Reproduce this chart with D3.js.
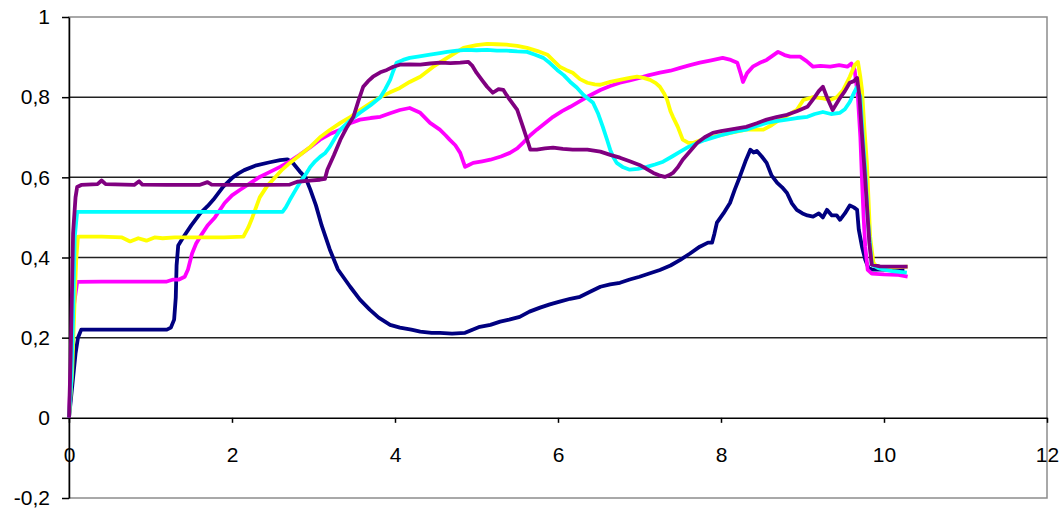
<!DOCTYPE html>
<html>
<head>
<meta charset="utf-8">
<script src="https://cdn.jsdelivr.net/npm/d3@7"></script>
<style>
  body { margin: 0; background: #fff; }
  svg text { font-family: "Liberation Sans", Arial, sans-serif; font-size: 21px; fill: #000; }
</style>
</head>
<body>
<svg id="chart" width="1062" height="510"></svg>
<script>
// values, [x, y]
const navy = [[0,0],[0.04,0.08],[0.08,0.16],[0.11,0.2],[0.15,0.22],[0.3,0.22],[0.6,0.22],[0.9,0.22],[1.2,0.22],[1.25,0.225],[1.29,0.245],[1.31,0.3],[1.32,0.38],[1.34,0.43],[1.4,0.45],[1.5,0.48],[1.61,0.51],[1.7,0.528],[1.77,0.544],[1.83,0.56],[1.89,0.576],[1.95,0.588],[2.01,0.6],[2.08,0.61],[2.15,0.618],[2.3,0.63],[2.45,0.637],[2.59,0.643],[2.68,0.645],[2.75,0.635],[2.83,0.615],[2.9,0.6],[2.96,0.57],[3.03,0.53],[3.1,0.48],[3.2,0.42],[3.3,0.37],[3.45,0.327],[3.57,0.295],[3.69,0.27],[3.8,0.25],[3.94,0.232],[4.06,0.225],[4.2,0.22],[4.31,0.215],[4.45,0.212],[4.55,0.212],[4.7,0.21],[4.86,0.212],[4.95,0.22],[5.04,0.227],[5.17,0.232],[5.29,0.24],[5.4,0.245],[5.53,0.252],[5.65,0.265],[5.78,0.275],[5.9,0.283],[6.02,0.29],[6.15,0.297],[6.27,0.302],[6.4,0.315],[6.52,0.327],[6.64,0.333],[6.76,0.337],[6.88,0.345],[7.0,0.352],[7.12,0.36],[7.25,0.369],[7.38,0.38],[7.5,0.394],[7.62,0.41],[7.74,0.427],[7.84,0.437],[7.89,0.437],[7.92,0.46],[7.95,0.487],[8.03,0.51],[8.11,0.536],[8.17,0.57],[8.23,0.601],[8.3,0.64],[8.36,0.669],[8.4,0.662],[8.44,0.666],[8.5,0.652],[8.56,0.636],[8.62,0.605],[8.69,0.586],[8.75,0.575],[8.81,0.561],[8.87,0.535],[8.93,0.519],[9.0,0.51],[9.06,0.505],[9.13,0.502],[9.2,0.51],[9.25,0.5],[9.3,0.519],[9.36,0.505],[9.42,0.505],[9.46,0.494],[9.52,0.51],[9.58,0.53],[9.63,0.525],[9.67,0.519],[9.69,0.47],[9.73,0.427],[9.77,0.394],[9.81,0.374],[9.85,0.37],[10.0,0.37],[10.25,0.37]]

const magenta = [[0,0],[0.03,0.15],[0.06,0.28],[0.1,0.339],[0.4,0.34],[0.8,0.34],[1.2,0.34],[1.28,0.345],[1.35,0.345],[1.42,0.352],[1.46,0.37],[1.51,0.41],[1.56,0.435],[1.61,0.452],[1.7,0.48],[1.79,0.5],[1.91,0.536],[2.0,0.555],[2.1,0.569],[2.22,0.585],[2.34,0.601],[2.46,0.613],[2.59,0.626],[2.71,0.64],[2.83,0.656],[2.96,0.675],[3.08,0.694],[3.2,0.708],[3.33,0.719],[3.45,0.735],[3.57,0.744],[3.7,0.748],[3.82,0.751],[3.94,0.76],[4.06,0.768],[4.18,0.773],[4.31,0.761],[4.43,0.736],[4.55,0.719],[4.62,0.705],[4.67,0.694],[4.74,0.68],[4.8,0.661],[4.86,0.626],[4.9,0.63],[4.96,0.636],[5.07,0.64],[5.17,0.644],[5.3,0.652],[5.41,0.661],[5.5,0.672],[5.57,0.686],[5.66,0.705],[5.74,0.719],[5.84,0.735],[5.94,0.751],[6.05,0.765],[6.15,0.776],[6.27,0.79],[6.36,0.801],[6.52,0.818],[6.64,0.828],[6.76,0.836],[6.88,0.842],[7.0,0.848],[7.12,0.855],[7.25,0.861],[7.38,0.866],[7.5,0.873],[7.62,0.88],[7.74,0.886],[7.88,0.892],[8.02,0.898],[8.12,0.893],[8.2,0.886],[8.24,0.86],[8.27,0.838],[8.32,0.86],[8.39,0.876],[8.47,0.885],[8.56,0.893],[8.63,0.903],[8.7,0.913],[8.78,0.905],[8.85,0.901],[8.97,0.901],[9.05,0.89],[9.13,0.876],[9.22,0.878],[9.34,0.876],[9.45,0.88],[9.55,0.876],[9.6,0.884],[9.64,0.868],[9.68,0.8],[9.71,0.7],[9.73,0.594],[9.75,0.5],[9.77,0.427],[9.8,0.369],[9.85,0.36],[10.0,0.358],[10.16,0.357],[10.29,0.352]]

const yellow = [[0,0],[0.04,0.12],[0.07,0.3],[0.09,0.4],[0.11,0.452],[0.4,0.452],[0.65,0.45],[0.75,0.44],[0.85,0.448],[0.95,0.442],[1.05,0.45],[1.15,0.448],[1.3,0.45],[1.6,0.45],[1.9,0.45],[2.14,0.452],[2.2,0.475],[2.25,0.5],[2.34,0.55],[2.43,0.578],[2.53,0.6],[2.62,0.62],[2.71,0.636],[2.83,0.655],[2.96,0.676],[3.08,0.7],[3.2,0.718],[3.33,0.736],[3.45,0.75],[3.57,0.768],[3.7,0.785],[3.82,0.8],[3.94,0.812],[4.06,0.823],[4.18,0.838],[4.31,0.851],[4.47,0.876],[4.64,0.898],[4.84,0.923],[5.0,0.93],[5.13,0.933],[5.25,0.932],[5.37,0.931],[5.5,0.928],[5.62,0.923],[5.75,0.915],[5.87,0.906],[5.95,0.89],[6.02,0.876],[6.1,0.868],[6.18,0.861],[6.27,0.845],[6.36,0.836],[6.45,0.832],[6.52,0.831],[6.64,0.838],[6.76,0.843],[6.88,0.848],[6.97,0.851],[7.05,0.848],[7.13,0.843],[7.2,0.835],[7.25,0.826],[7.3,0.81],[7.34,0.793],[7.38,0.765],[7.41,0.751],[7.47,0.726],[7.53,0.694],[7.6,0.686],[7.66,0.686],[7.78,0.695],[7.9,0.701],[8.1,0.71],[8.31,0.719],[8.52,0.719],[8.62,0.73],[8.72,0.744],[8.82,0.755],[8.93,0.768],[9.01,0.793],[9.13,0.8],[9.25,0.797],[9.34,0.793],[9.42,0.8],[9.5,0.818],[9.58,0.851],[9.64,0.88],[9.68,0.888],[9.71,0.85],[9.73,0.818],[9.76,0.72],[9.79,0.636],[9.83,0.452],[9.87,0.387],[9.92,0.375],[10.1,0.375],[10.29,0.377]]

const cyan = [[0,0],[0.03,0.1],[0.05,0.25],[0.07,0.45],[0.1,0.514],[0.5,0.514],[1.0,0.514],[1.5,0.514],[2.0,0.514],[2.4,0.514],[2.62,0.514],[2.66,0.525],[2.71,0.544],[2.77,0.565],[2.83,0.586],[2.9,0.606],[2.96,0.626],[3.02,0.64],[3.08,0.651],[3.14,0.66],[3.2,0.676],[3.27,0.7],[3.33,0.719],[3.45,0.742],[3.57,0.761],[3.7,0.78],[3.82,0.8],[3.88,0.82],[3.94,0.843],[3.98,0.866],[4.02,0.886],[4.1,0.893],[4.18,0.898],[4.3,0.902],[4.43,0.906],[4.55,0.91],[4.64,0.913],[4.76,0.916],[4.88,0.918],[5.0,0.917],[5.13,0.918],[5.25,0.916],[5.37,0.916],[5.5,0.914],[5.62,0.913],[5.72,0.906],[5.82,0.898],[5.9,0.885],[5.99,0.868],[6.07,0.855],[6.15,0.838],[6.23,0.824],[6.31,0.806],[6.37,0.796],[6.43,0.786],[6.49,0.76],[6.55,0.726],[6.6,0.695],[6.64,0.669],[6.68,0.65],[6.72,0.636],[6.8,0.625],[6.88,0.619],[6.98,0.621],[7.09,0.626],[7.19,0.632],[7.29,0.639],[7.4,0.652],[7.5,0.664],[7.6,0.676],[7.71,0.686],[7.8,0.693],[7.9,0.699],[8.0,0.705],[8.11,0.711],[8.2,0.715],[8.31,0.719],[8.44,0.728],[8.56,0.736],[8.68,0.74],[8.81,0.744],[8.93,0.748],[9.06,0.751],[9.15,0.758],[9.25,0.763],[9.35,0.758],[9.46,0.761],[9.52,0.77],[9.58,0.788],[9.63,0.81],[9.67,0.826],[9.71,0.8],[9.74,0.7],[9.77,0.619],[9.8,0.5],[9.82,0.452],[9.85,0.382],[9.95,0.372],[10.1,0.366],[10.28,0.362]]

const purple = [[0,0],[0.02,0.15],[0.04,0.35],[0.05,0.46],[0.08,0.55],[0.1,0.576],[0.15,0.581],[0.35,0.583],[0.4,0.592],[0.45,0.583],[0.8,0.581],[0.86,0.59],[0.9,0.582],[1.2,0.581],[1.6,0.581],[1.7,0.588],[1.75,0.582],[2.0,0.581],[2.4,0.581],[2.71,0.582],[2.8,0.589],[2.95,0.592],[3.08,0.594],[3.14,0.596],[3.17,0.619],[3.25,0.655],[3.33,0.694],[3.41,0.725],[3.49,0.751],[3.55,0.79],[3.61,0.826],[3.67,0.84],[3.73,0.851],[3.82,0.862],[3.9,0.868],[3.98,0.876],[4.06,0.881],[4.18,0.882],[4.31,0.881],[4.43,0.884],[4.55,0.886],[4.68,0.885],[4.8,0.886],[4.9,0.888],[4.95,0.878],[5.0,0.861],[5.07,0.842],[5.13,0.826],[5.2,0.811],[5.27,0.82],[5.33,0.818],[5.37,0.805],[5.41,0.793],[5.5,0.768],[5.57,0.726],[5.62,0.695],[5.66,0.669],[5.74,0.669],[5.84,0.672],[5.94,0.674],[6.06,0.671],[6.18,0.669],[6.36,0.669],[6.52,0.664],[6.64,0.656],[6.76,0.649],[6.88,0.64],[7.0,0.631],[7.08,0.622],[7.17,0.611],[7.24,0.605],[7.31,0.601],[7.36,0.605],[7.41,0.611],[7.47,0.625],[7.53,0.644],[7.62,0.665],[7.71,0.686],[7.8,0.7],[7.9,0.711],[8.0,0.715],[8.11,0.719],[8.2,0.722],[8.31,0.726],[8.44,0.735],[8.56,0.744],[8.68,0.75],[8.81,0.756],[8.93,0.765],[9.06,0.776],[9.15,0.8],[9.2,0.815],[9.25,0.826],[9.3,0.8],[9.37,0.768],[9.45,0.795],[9.52,0.815],[9.58,0.836],[9.63,0.84],[9.67,0.848],[9.7,0.8],[9.72,0.736],[9.75,0.65],[9.77,0.594],[9.8,0.5],[9.82,0.437],[9.85,0.382],[9.95,0.378],[10.1,0.377],[10.29,0.377]]

const series = [navy, magenta, yellow, cyan, purple]
const colors = ['#000080', '#ff00ff', '#ffff00', '#00ffff', '#800080']

const xTicks = [0, 2, 4, 6, 8, 10, 12]
const yTicks = [-0.2, 0, 0.2, 0.4, 0.6, 0.8, 1]
const yTickLabels = ['-0,2', '0', '0,2', '0,4', '0,6', '0,8', '1']
const gridValues = [0.2, 0.4, 0.6, 0.8]

const svg = d3.select('#chart')

const x = d3.scaleLinear().domain([0, 12]).range([69, 1047])
const y = d3.scaleLinear().domain([-0.2, 1]).range([498, 17])

// plot frame
svg.append('rect')
  .attr('x', x(0))
  .attr('y', y(1))
  .attr('width', x(12) - x(0))
  .attr('height', y(-0.2) - y(1))
  .attr('fill', 'none')
  .attr('stroke', '#8c8c8c')
  .attr('stroke-width', 1.5)

// gridlines
svg.append('g')
  .selectAll('line')
  .data(gridValues)
  .enter()
  .append('line')
  .attr('x1', x(0))
  .attr('x2', x(12))
  .attr('y1', d => y(d))
  .attr('y2', d => y(d))
  .attr('stroke', '#222')
  .attr('stroke-width', 1.5)

// y axis
const yAxis = svg.append('g')
  .attr('transform', `translate(${x(0)},0)`)
  .call(d3.axisLeft(y)
    .tickValues(yTicks)
    .tickSize(7)
    .tickSizeOuter(0)
    .tickPadding(12)
    .tickFormat((d, i) => yTickLabels[i]))
yAxis.select('.domain').attr('stroke', '#000').attr('stroke-width', 1.5)
yAxis.selectAll('.tick line').attr('stroke', '#000').attr('stroke-width', 1.5)
yAxis.attr('font-size', null).attr('font-family', null)

// x axis along y = 0
const xAxis = svg.append('g')
  .attr('transform', `translate(0,${y(0)})`)
  .call(d3.axisBottom(x)
    .tickValues(xTicks)
    .tickSize(5)
    .tickSizeOuter(0)
    .tickPadding(24)
    .tickFormat(d3.format('d')))
xAxis.select('.domain').attr('stroke', '#000').attr('stroke-width', 1.5)
xAxis.selectAll('.tick line').attr('stroke', '#000').attr('stroke-width', 1.5)
xAxis.attr('font-size', null).attr('font-family', null)

// series lines
const line = d3.line()
  .x(d => x(d[0]))
  .y(d => y(d[1]))

svg.append('g')
  .selectAll('path')
  .data(series)
  .enter()
  .append('path')
  .attr('d', line)
  .attr('fill', 'none')
  .attr('stroke', (d, i) => colors[i])
  .attr('stroke-width', 3.8)
  .attr('stroke-linejoin', 'round')
</script>
</body>
</html>
